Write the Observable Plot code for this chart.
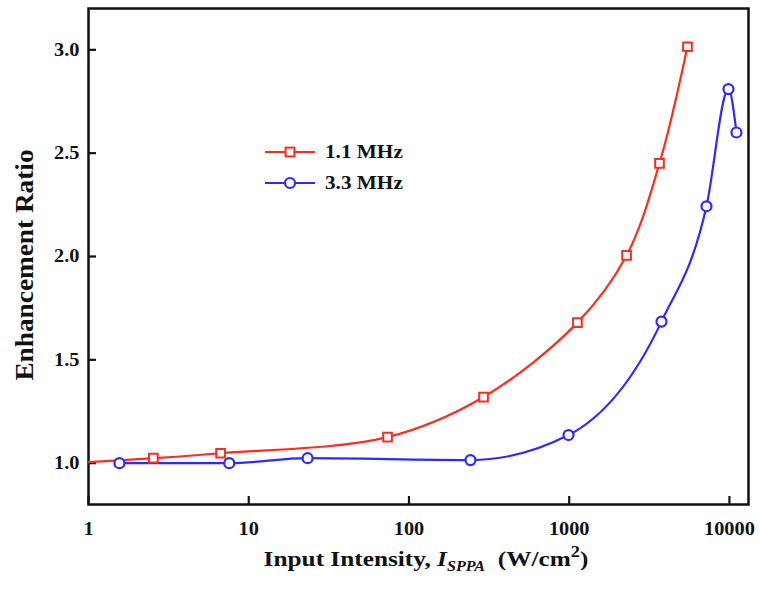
<!DOCTYPE html>
<html><head><meta charset="utf-8">
<script src="https://cdn.jsdelivr.net/npm/d3@7"></script>
<script src="https://cdn.jsdelivr.net/npm/@observablehq/plot@0.6"></script>
<style>
html,body{margin:0;padding:0;background:#fff;}
#chart{width:760px;height:589px;}
</style></head><body><div id="chart"></div>
<script>
// ---- data ----
const series = ["1.1 MHz", "3.3 MHz"];
const colors = ["#ff2b1c", "#2b2bff"];
const redX = [2.54, 6.67, 73.5, 292, 1125, 2280, 3660, 5470];
const redY = [1.024, 1.048, 1.126, 1.32, 1.68, 2.005, 2.451, 3.015];
const redLineStartX = 1;      // fitted curve starts at the axis
const redLineStartY = 1.005;
const blueX = [1.56, 7.56, 23.3, 242, 990, 3765, 7190, 9860, 11060];
const blueY = [1.0, 1.0, 1.024, 1.015, 1.136, 1.685, 2.243, 2.81, 2.60];
const xTicks = [1, 10, 100, 1000, 10000];
const yTicks = [1.0, 1.5, 2.0, 2.5, 3.0];

const redPts = redX.map((x, i) => ({x, y: redY[i]}));
const redLine = [{x: redLineStartX, y: redLineStartY}, ...redPts];
const bluePts = blueX.map((x, i) => ({x, y: blueY[i]}));

const FONT = '"Liberation Serif","Times New Roman",Times,serif';
const STRETCH = 1.13;
const W = 760, H = 589, ML = 88, MR = 12, MT = 8, MB = 85, TICK = 8;

const chart = Plot.plot({
  width: W, height: H,
  marginLeft: ML, marginRight: MR, marginTop: MT, marginBottom: MB,
  style: {fontFamily: FONT, fontWeight: "bold", background: "#fff", color: "#111"},
  x: {type: "log", domain: [1, 13150]},
  y: {domain: [0.8, 3.2]},
  marks: [
    Plot.axisX({ticks: xTicks, tickSize: 0, tickPadding: 18, tickFormat: d3.format("d"), fontSize: 18, label: null}),
    Plot.axisY({ticks: yTicks, tickSize: 0, tickPadding: 9, tickFormat: d3.format(".1f"), fontSize: 18, label: null}),
    Plot.ruleX(xTicks, {x: d => d, insetTop: (H - MT - MB) - TICK, stroke: "#111", strokeWidth: 2.2}),
    Plot.ruleY(yTicks, {y: d => d, insetRight: (W - ML - MR) - TICK, stroke: "#111", strokeWidth: 2.2}),
    Plot.frame({stroke: "#111", strokeWidth: 2.5}),
    Plot.line(redLine, {x: "x", y: "y", stroke: colors[0], strokeWidth: 2.2, curve: "catmull-rom"}),
    Plot.line(bluePts, {x: "x", y: "y", stroke: colors[1], strokeWidth: 2.2, curve: "monotone-x"}),
    Plot.dot(redPts, {x: "x", y: "y", symbol: "square", r: 4.9, stroke: colors[0], fill: "white", strokeWidth: 2}),
    Plot.dot(bluePts, {x: "x", y: "y", symbol: "circle", r: 5, stroke: colors[1], fill: "white", strokeWidth: 2.2})
  ]
});
document.getElementById("chart").appendChild(chart);

const svg = d3.select(chart);
// horizontal stretch of tick labels
svg.selectAll("text").each(function() {
  const t = this.getAttribute("transform");
  if (t) this.setAttribute("transform", t + ` scale(${STRETCH},1)`);
  else {
    const x = +this.getAttribute("x") || 0, y = +this.getAttribute("y") || 0;
    this.removeAttribute("x"); this.removeAttribute("y");
    this.setAttribute("transform", `translate(${x},${y}) scale(${STRETCH},1)`);
  }
});

// x-axis title
const xt = svg.append("text")
  .attr("transform", `translate(426,566) scale(1.15,1)`)
  .attr("text-anchor", "middle")
  .style("white-space", "pre")
  .attr("font-family", FONT).attr("font-weight", "bold").attr("font-size", 22).attr("fill", "#111");
xt.append("tspan").text("Input Intensity, ");
xt.append("tspan").attr("font-style", "italic").text("I");
xt.append("tspan").attr("font-style", "italic").attr("font-size", 14).attr("dy", 5).text("SPPA");
xt.append("tspan").attr("dy", -5).text("  (W/cm");
xt.append("tspan").attr("font-size", 16).attr("dy", -9).text("2");
xt.append("tspan").attr("dy", 9).text(")");

// y-axis title
svg.append("text")
  .attr("transform", `translate(33,265) rotate(-90) scale(1.05,1)`)
  .attr("text-anchor", "middle")
  .attr("font-family", FONT).attr("font-weight", "bold").attr("font-size", 26).attr("fill", "#111")
  .text("Enhancement Ratio");

// legend
const leg = svg.append("g");
series.forEach((name, i) => {
  const y = 152 + i * 31;
  leg.append("line").attr("x1", 265).attr("x2", 315).attr("y1", y).attr("y2", y)
    .attr("stroke", colors[i]).attr("stroke-width", 2.2);
  if (i === 0) {
    leg.append("rect").attr("x", 290 - 4.4).attr("y", y - 4.4).attr("width", 8.8).attr("height", 8.8)
      .attr("fill", "white").attr("stroke", colors[i]).attr("stroke-width", 2);
  } else {
    leg.append("circle").attr("cx", 290).attr("cy", y).attr("r", 5)
      .attr("fill", "white").attr("stroke", colors[i]).attr("stroke-width", 2.2);
  }
  leg.append("text").attr("transform", `translate(325,${y + 6}) scale(1.18,1)`)
    .attr("text-anchor", "start")
    .attr("font-family", FONT).attr("font-weight", "bold").attr("font-size", 18).attr("fill", "#111")
    .text(name);
});
</script>
</body></html>
